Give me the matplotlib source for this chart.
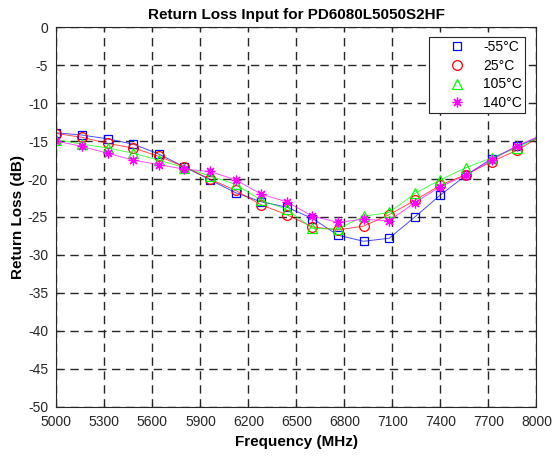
import matplotlib
matplotlib.use("Agg")
import matplotlib.pyplot as plt

plt.rcParams['font.family'] = ['Liberation Sans', 'DejaVu Sans']
plt.rcParams['axes.unicode_minus'] = False

# frequency points (MHz), markers on all but the last one
freq = [5000, 5160, 5320, 5480, 5640, 5800, 5960, 6120, 6280, 6440,
        6600, 6760, 6920, 7080, 7240, 7400, 7560, 7720, 7880, 8000]

# return loss (dB)
rl_m55 = [-13.9, -14.2, -14.7, -15.4, -16.7, -18.4, -20.1, -21.8, -23.0, -23.7,
          -25.2, -27.4, -28.2, -27.8, -25.0, -22.1, -19.5, -17.3, -15.7, -14.6]
rl_25 = [-14.0, -14.5, -15.3, -15.9, -17.0, -18.4, -20.0, -21.5, -23.4, -24.7,
         -26.3, -26.7, -26.2, -24.7, -22.8, -20.8, -19.4, -17.7, -16.2, -14.7]
rl_105 = [-14.8, -15.4, -15.9, -16.6, -17.5, -18.5, -19.6, -20.7, -22.8, -24.0,
          -26.5, -26.6, -24.9, -24.4, -21.9, -20.1, -18.5, -17.2, -15.9, -14.6]
rl_140 = [-15.0, -15.7, -16.6, -17.5, -18.1, -18.7, -19.0, -20.1, -22.0, -23.0,
          -24.9, -25.7, -25.3, -25.5, -23.1, -21.0, -19.5, -17.5, -15.6, -14.5]

labels = ['-55°C', '25°C', '105°C', '140°C']
series = [rl_m55, rl_25, rl_105, rl_140]
colors = ['#0000ff', '#ff0000', '#00ff00', '#ff00ff']
markers = ['s', 'o', '^', (8, 2, 0)]

xticks = [5000, 5300, 5600, 5900, 6200, 6500, 6800, 7100, 7400, 7700, 8000]
xticklabels = ['5000', '5300', '5600', '5900', '6200', '6500', '6800',
               '7100', '7400', '7700', '8000']
yticks = list(range(-50, 1, 5))

fig = plt.figure(figsize=(5.53, 4.59), dpi=100)
ax = fig.add_axes([0.102, 0.114, 0.868, 0.8265])

nmark = len(freq) - 1
for vals, c, m, lab in zip(series, colors, markers, labels):
    ax.plot(freq, vals, color=c, lw=0.7, alpha=0.7)
    ax.plot(freq[:nmark], vals[:nmark], linestyle='none', marker=m,
            markersize=6 if m == 's' else 7, markerfacecolor='none',
            markeredgecolor=c, markeredgewidth=0.9, label=lab)

ax.set_xlim(5000, 8000)
ax.set_ylim(-50, 0)
ax.set_xticks(xticks)
ax.set_xticklabels(xticklabels)
ax.set_yticks(yticks)
ax.grid(True, color='#262626', linestyle=(0, (6, 4)), linewidth=1.0)
ax.tick_params(direction='in', length=3, labelsize=10, colors='#262626',
               top=True, right=True, pad=6)
for s in ax.spines.values():
    s.set_color('#262626')
    s.set_linewidth(0.8)

ax.set_title('Return Loss Input for PD6080L5050S2HF', fontsize=11,
             fontweight='bold', pad=6)
ax.set_xlabel('Frequency (MHz)', fontsize=11, fontweight='bold', labelpad=4)
ax.set_ylabel('Return Loss (dB)', fontsize=11, fontweight='bold', labelpad=2)

leg = ax.legend(loc='upper right', fontsize=10, fancybox=False,
                framealpha=1, edgecolor='#262626', borderpad=0.2,
                labelspacing=0.35, handletextpad=0.05, handlelength=3.7,
                borderaxespad=0, bbox_to_anchor=(0.976, 0.9745))
leg.get_frame().set_linewidth(0.8)

fig.savefig('out.png', dpi=100)
